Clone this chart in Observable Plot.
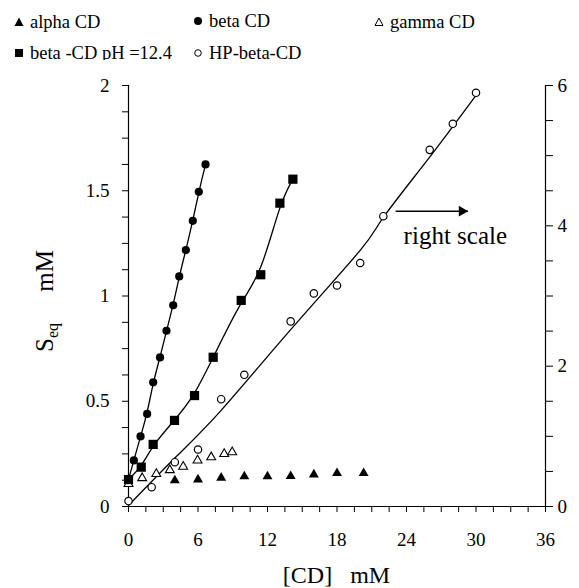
<!DOCTYPE html>
<html><head><meta charset="utf-8">
<script src="https://cdn.jsdelivr.net/npm/d3@7"></script>
<script src="https://cdn.jsdelivr.net/npm/@observablehq/plot@0.6"></script>
<style>
body{margin:0;background:#fff;}
#wrap{position:relative;width:579px;height:588px;font-family:"Liberation Serif","Times New Roman",serif;color:#000;overflow:hidden;}
.lt{position:absolute;font-size:18.5px;line-height:1;white-space:pre;font-family:"Liberation Serif","Times New Roman",serif;}
.ls{position:absolute;}
#chart{position:absolute;left:0;top:60px;}
#chart text{font-family:"Liberation Serif","Times New Roman",serif;}
</style></head><body><div id="wrap"><div id="legend"></div><div id="chart"></div></div>
<script>
// ---- data ----
const alphaX = [4, 6, 8, 10, 12, 14, 16, 18, 20.3];
const alphaY = [0.124, 0.128, 0.136, 0.143, 0.143, 0.144, 0.152, 0.158, 0.158];

const betaX = [0, 0.46, 1.04, 1.61, 2.13, 2.72, 3.28, 3.86, 4.38, 4.95, 5.55, 6.07, 6.65];
const betaY = [0.128, 0.219, 0.333, 0.44, 0.59, 0.708, 0.835, 0.956, 1.093, 1.218, 1.357, 1.495, 1.625];

const gammaX = [0, 1.18, 2.4, 3.57, 4.72, 5.96, 7.14, 8.26, 8.95];
const gammaY = [0.107, 0.135, 0.155, 0.173, 0.189, 0.219, 0.234, 0.25, 0.258];

const phX = [0, 1.1, 2.13, 3.97, 5.7, 7.31, 9.73, 11.42, 13.07, 14.19];
const phY = [0.128, 0.187, 0.295, 0.409, 0.527, 0.709, 0.979, 1.101, 1.441, 1.555];

// HP-beta-CD is read on the right scale (0-6)
const hpX = [0, 2, 4, 6, 8, 10, 14, 16, 18, 20, 22, 26, 28, 30];
const hpY = [0.078, 0.275, 0.631, 0.812, 1.529, 1.877, 2.638, 3.037, 3.15, 3.47, 4.137, 5.083, 5.454, 5.896];
// the drawn trend line for HP-beta-CD (right scale)
const hpLineX = [0, 4, 8, 14, 20, 22, 26, 30];
const hpLineY = [0.014, 0.69, 1.37, 2.52, 3.65, 4.12, 4.98, 5.86];

const seriesNames = ["alpha CD", "beta CD", "gamma CD", "beta -CD pH =12.4", "HP-beta-CD"];

// ticks
const xTickStep = 1.5;
const xTickLabels = [0, 6, 12, 18, 24, 30, 36];
const yTickStep = 0.125;
const yTickLabels = [0, 0.5, 1, 1.5, 2];
const rightTickStep = 0.5;
const rightTickLabels = [0, 2, 4, 6];
const rightToLeft = 3; // right scale max 6 <-> left scale max 2

// annotation
const arrowX = [23.06, 29.3];
const arrowY = 1.403;
const noteX = 23.75, noteY = 1.249, noteText = "right scale";

// ---- build ----
const zip = (xs, ys) => xs.map((x, i) => ({x, y: ys[i]}));
const alpha = zip(alphaX, alphaY);
const beta = zip(betaX, betaY);
const gamma = zip(gammaX, gammaY);
const ph = zip(phX, phY);
const hp = zip(hpX, hpY.map(v => v / rightToLeft));
const hpLine = zip(hpLineX, hpLineY.map(v => v / rightToLeft));

const near = (arr, d) => arr.some(v => Math.abs(v - d) < 1e-9);
const xTicks = d3.range(0, 36 + 1e-9, xTickStep);
const yTicks = d3.range(0, 2 + 1e-9, yTickStep);
const rTicks = d3.range(0, 6 + 1e-9, rightTickStep).map(v => v / rightToLeft);

const serif = "'Liberation Serif', 'Times New Roman', serif";
const chart = Plot.plot({
  width: 579, height: 528,
  marginTop: 25, marginBottom: 82, marginLeft: 128, marginRight: 34,
  x: {domain: [0, 36]},
  y: {domain: [0, 2]},
  style: {fontFamily: serif, fontSize: "19px", color: "#000", background: "#fff", overflow: "visible"},
  marks: [
    Plot.axisX({ticks: xTicks, tickSize: 6, tickPadding: 20, label: null, fontFamily: serif, fontSize: 19,
      tickFormat: d => near(xTickLabels, d) ? String(d) : ""}),
    Plot.axisY({ticks: yTicks, tickSize: 6, tickPadding: 13, label: null, fontFamily: serif, fontSize: 19,
      tickFormat: d => near(yTickLabels, d) ? String(d) : ""}),
    Plot.axisY({anchor: "right", ticks: rTicks, tickSize: 7, tickPadding: 5, label: null, fontFamily: serif, fontSize: 19,
      tickFormat: d => { const v = Math.round(d * rightToLeft * 1000) / 1000; return near(rightTickLabels, v) ? String(v) : ""; }}),
    Plot.ruleX([0, 36], {y1: 0, y2: 2, stroke: "#000", strokeWidth: 1.2}),
    Plot.ruleY([0], {stroke: "#000", strokeWidth: 1.2}),
    Plot.line(beta, {x: "x", y: "y", curve: "basis", stroke: "#000", strokeWidth: 1.3}),
    Plot.line(ph, {x: "x", y: "y", curve: "basis", stroke: "#000", strokeWidth: 1.3}),
    Plot.line(hpLine, {x: "x", y: "y", curve: "natural", stroke: "#000", strokeWidth: 1.3}),
    Plot.dot(hp, {x: "x", y: "y", symbol: "circle", r: 3.7, fill: "#fff", stroke: "#000", strokeWidth: 1.2}),
    Plot.dot(gamma, {x: "x", y: "y", symbol: "triangle", r: 3.3, fill: "#fff", stroke: "#000", strokeWidth: 1.1}),
    Plot.dot(alpha, {x: "x", y: "y", symbol: "triangle", r: 3.7, fill: "#000", stroke: "none"}),
    Plot.dot(beta, {x: "x", y: "y", symbol: "circle", r: 4.1, fill: "#000", stroke: "none"}),
    Plot.dot(ph, {x: "x", y: "y", symbol: "square", r: 5.2, fill: "#000", stroke: "none"}),
    Plot.link([0], {x1: arrowX[0], x2: arrowX[1], y1: arrowY, y2: arrowY, stroke: "#000", strokeWidth: 1.5}),
    Plot.dot([0], {x: arrowX[1], y: arrowY, symbol: "triangle", r: 4, rotate: 90, dx: -6, fill: "#000", stroke: "none"}),
    Plot.text([noteText], {x: noteX, y: noteY, text: d => d, textAnchor: "start", lineAnchor: "bottom", fontSize: 25, fontFamily: serif, fill: "#000"})
  ]
});
document.getElementById("chart").appendChild(chart);

// axis titles (with subscript)
const svg = d3.select(chart);
const yl = svg.append("text")
  .attr("transform", `translate(53,241) rotate(-90)`)
  .attr("text-anchor", "middle")
  .style("font-size", "25px").style("white-space", "pre").style("font-family", serif).attr("fill", "#000");
yl.append("tspan").text("S");
yl.append("tspan").attr("dy", 5).style("font-size", "16px").text("eq");
yl.append("tspan").attr("dy", -5).text("     mM");
svg.append("text")
  .attr("x", (128 + 545) / 2).attr("y", 523)
  .attr("text-anchor", "middle")
  .style("font-size", "24px").style("white-space", "pre").style("font-family", serif).attr("fill", "#000")
  .text("[CD]   mM");

// legend (HTML above the SVG)
const legendItems = [
  {name: seriesNames[0], sym: "triangle", fill: true, x: 15, y: 22},
  {name: seriesNames[1], sym: "circle", fill: true, x: 194, y: 21},
  {name: seriesNames[2], sym: "triangle", fill: false, x: 375, y: 22},
  {name: seriesNames[3], sym: "square", fill: true, x: 15, y: 53},
  {name: seriesNames[4], sym: "circle", fill: false, x: 194, y: 53}
];
const leg = document.getElementById("legend");
legendItems.forEach(it => {
  const s = document.createElementNS("http://www.w3.org/2000/svg", "svg");
  s.setAttribute("width", 12); s.setAttribute("height", 12);
  s.setAttribute("class", "ls");
  s.style.left = (it.x - 1) + "px"; s.style.top = (it.y - 6) + "px";
  let el;
  if (it.sym === "triangle") {
    el = document.createElementNS(s.namespaceURI, "polygon");
    el.setAttribute("points", it.fill ? "5,1.5 9.5,10 0.5,10" : "5,2 9,9.5 1,9.5");
  } else if (it.sym === "circle") {
    el = document.createElementNS(s.namespaceURI, "circle");
    el.setAttribute("cx", 5); el.setAttribute("cy", 6); el.setAttribute("r", it.fill ? 4 : 3.3);
  } else {
    el = document.createElementNS(s.namespaceURI, "rect");
    el.setAttribute("x", 1); el.setAttribute("y", 2); el.setAttribute("width", 8); el.setAttribute("height", 8);
  }
  el.setAttribute("fill", it.fill ? "#000" : "#fff");
  el.setAttribute("stroke", it.fill ? "none" : "#000");
  el.setAttribute("stroke-width", 1);
  s.appendChild(el);
  leg.appendChild(s);
  const t = document.createElement("div");
  t.className = "lt";
  t.style.left = (it.x + 15) + "px";
  t.style.top = (it.y - 9.5) + "px";
  t.textContent = it.name;
  leg.appendChild(t);
});
</script></body></html>
